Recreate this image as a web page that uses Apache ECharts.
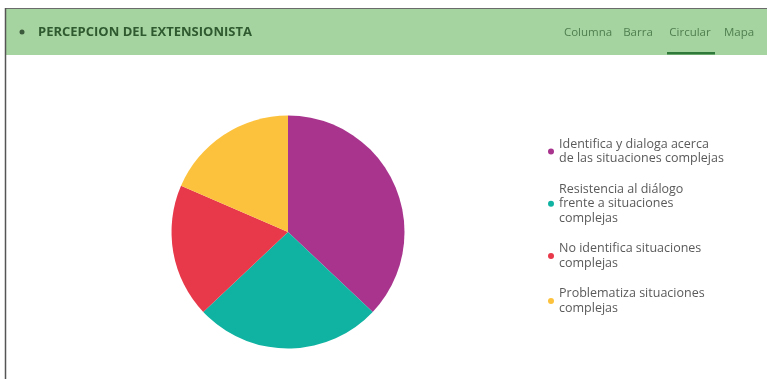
<!DOCTYPE html>
<html>
<head>
<meta charset="utf-8">
<script src="https://cdn.jsdelivr.net/npm/echarts@6/dist/echarts.min.js"></script>
<style>
html,body{margin:0;padding:0;background:#fff;}
#c{width:767px;height:379px;}
</style>
</head>
<body>
<div id="c"></div>
<script>
var title = 'PERCEPCION DEL EXTENSIONISTA';
var tabs = ['Columna', 'Barra', 'Circular', 'Mapa'];
var categories = [
  'Identifica y dialoga acerca\nde las situaciones complejas',
  'Resistencia al diálogo\nfrente a situaciones\ncomplejas',
  'No identifica situaciones\ncomplejas',
  'Problematiza situaciones\ncomplejas'
];
var values = [20, 14, 10, 10];
var colors = ['#a8348e', '#10b2a2', '#e7394a', '#fdc23d'];

var chart = echarts.init(document.getElementById('c'), null, {renderer: 'canvas'});
var fontFam = '"Open Sans", "Noto Sans", sans-serif';
var tabX = [588, 638, 690, 739];
var graphics = [
  {type: 'rect', shape: {x: 5, y: 9, width: 770, height: 46}, style: {fill: '#a6d4a0'}, z: 0},
  {type: 'line', shape: {x1: 5, y1: 8.5, x2: 767, y2: 8.5}, style: {stroke: '#6b6b6b', lineWidth: 1}},
  {type: 'line', shape: {x1: 5.5, y1: 8, x2: 5.5, y2: 379}, style: {stroke: '#555', lineWidth: 1.5}},
  {type: 'circle', shape: {cx: 22, cy: 32, r: 2.5}, style: {fill: '#3b5a3b'}},
  {type: 'text', x: 38, y: 32, style: {text: title, fill: '#2f5a30', font: 'bold 13px ' + fontFam, textVerticalAlign: 'middle'}},
  {type: 'rect', shape: {x: 667, y: 52, width: 48, height: 2.5}, style: {fill: '#2f7a3a'}}
];
tabs.forEach(function (t, i) {
  graphics.push({type: 'text', x: tabX[i], y: 33, style: {text: t, fill: '#4f7f4f', font: '11.5px ' + fontFam, textAlign: 'center', textVerticalAlign: 'middle'}});
});

chart.setOption({
  animation: false,
  color: colors,
  graphic: graphics,
  legend: {
    orient: 'vertical',
    left: 548,
    top: 137,
    padding: 0,
    icon: 'circle',
    itemWidth: 6,
    itemHeight: 6,
    itemGap: 16,
    textStyle: {fontFamily: fontFam, fontSize: 12.5, color: '#5a5a5a', lineHeight: 14.5},
    data: categories
  },
  series: [{
    type: 'pie',
    center: [288, 232],
    radius: 116.5,
    startAngle: 90,
    clockwise: true,
    label: {show: false},
    labelLine: {show: false},
    emphasis: {disabled: true},
    data: categories.map(function (c, i) { return {name: c, value: values[i]}; })
  }]
});
</script>
</body>
</html>
